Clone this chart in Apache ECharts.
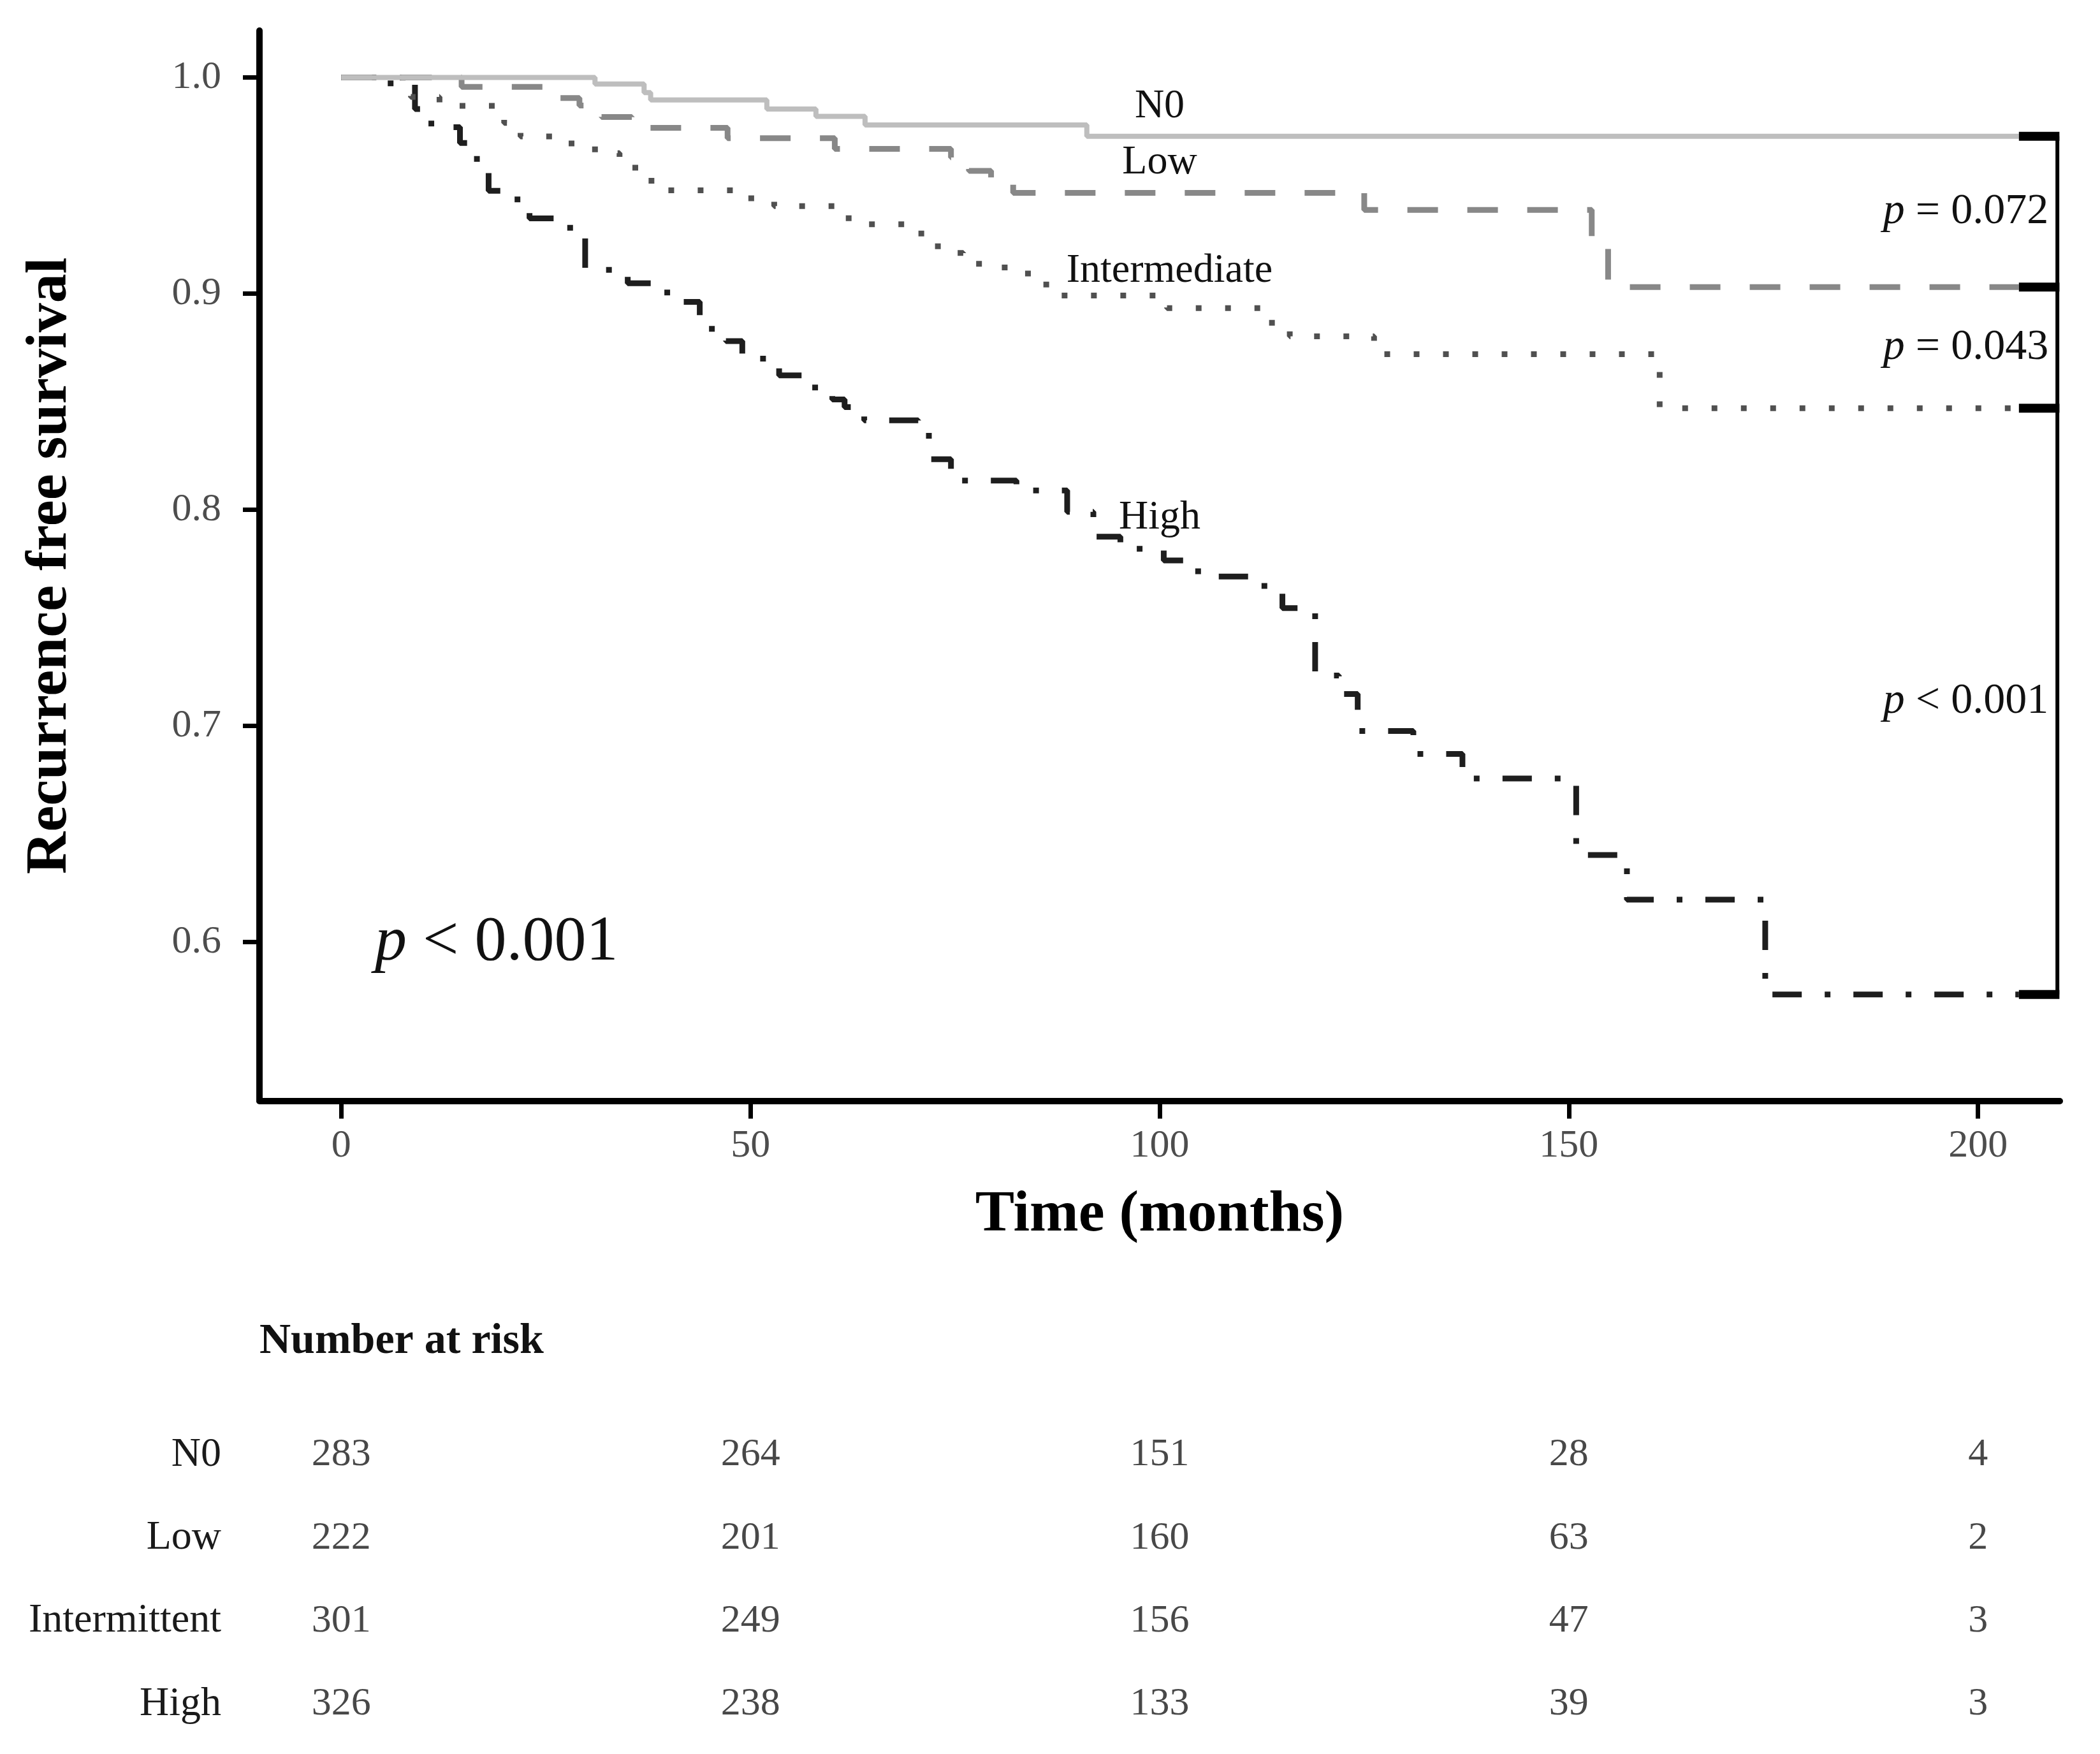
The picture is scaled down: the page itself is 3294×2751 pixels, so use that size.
<!DOCTYPE html>
<html><head><meta charset="utf-8">
<script src="https://cdn.jsdelivr.net/npm/echarts@6/dist/echarts.min.js"></script>
<style>html,body{margin:0;padding:0;background:#fff;}#c{width:3294px;height:2751px;}</style>
</head><body><div id="c"></div>
<script>
// ---- Data ----
const timesN0 = [0, 31.0, 37.0, 37.8, 52.0, 58.0, 64.0, 91.1, 205];
const survN0  = [1.0, 0.997, 0.993, 0.9896, 0.9854, 0.982, 0.978, 0.9728, 0.9728];

const timesLow = [0, 14.7, 25.0, 29.1, 31.8, 35.5, 47.2, 60.3, 74.5, 76.7, 79.4, 82.1, 125.0, 152.8, 154.8, 205];
const survLow  = [1.0, 0.9957, 0.9905, 0.987, 0.9817, 0.9767, 0.9719, 0.967, 0.963, 0.9568, 0.9522, 0.9466, 0.9387, 0.9216, 0.903, 0.903];

const timesInt = [0, 7.5, 8.5, 12.0, 19.9, 21.9, 27.0, 31.0, 34.0, 37.9, 49.0, 52.9, 62.0, 69.0, 72.9, 76.0, 79.0, 82.0, 84.5, 86.5, 100.9, 113.0, 115.9, 126.2, 161.1, 205];
const survInt  = [1.0, 0.996, 0.991, 0.9869, 0.979, 0.9727, 0.9695, 0.965, 0.9583, 0.9478, 0.9441, 0.9405, 0.9321, 0.9278, 0.9188, 0.9138, 0.9121, 0.9093, 0.9042, 0.8991, 0.8933, 0.8865, 0.8802, 0.872, 0.847, 0.847];

const timesHigh = [0, 3.7, 9.0, 11.0, 14.5, 16.0, 18.0, 20.0, 23.0, 27.0, 29.8, 35.0, 38.9, 41.8, 43.8, 47.0, 49.0, 53.5, 57.9, 60.0, 61.5, 63.9, 70.5, 71.8, 74.5, 82.5, 88.7, 91.9, 95.2, 100.5, 104.7, 112.8, 115.0, 119.0, 121.9, 124.2, 131.0, 137.0, 150.9, 157.1, 174.0, 205];
const survHigh  = [1.0, 0.9973, 0.9854, 0.977, 0.9697, 0.9623, 0.9476, 0.9436, 0.9348, 0.9305, 0.911, 0.9048, 0.9005, 0.8962, 0.8837, 0.878, 0.8699, 0.8622, 0.855, 0.851, 0.8475, 0.8414, 0.8377, 0.8234, 0.8135, 0.8089, 0.799, 0.7875, 0.7819, 0.7765, 0.7691, 0.7621, 0.7545, 0.7233, 0.7147, 0.6976, 0.687, 0.6756, 0.6402, 0.6196, 0.5757, 0.5757];

const curveNames = ['N0', 'Low', 'Intermediate', 'High'];
const pairwiseP = ['= 0.072', '= 0.043', '< 0.001'];
const overallP = '< 0.001';

const xTicks = [0, 50, 100, 150, 200];
const yTicks = [0.6, 0.7, 0.8, 0.9, 1.0];

const riskTimes = [0, 50, 100, 150, 200];
const riskGroups = ['N0', 'Low', 'Intermittent', 'High'];
const riskN0 = [283, 264, 151, 28, 4];
const riskLow = [222, 201, 160, 63, 2];
const riskIntermittent = [301, 249, 156, 47, 3];
const riskHigh = [326, 238, 133, 39, 3];

const xTitle = 'Time (months)';
const yTitle = 'Recurrence free survival';
const riskTitle = 'Number at risk';

// ---- Chart ----
const FONT = '"Liberation Serif", "Times New Roman", serif';
const chart = echarts.init(document.getElementById('c'), null, {renderer: 'canvas'});

const curves = [
  {t: timesN0, s: survN0, color: '#bebebe', type: 'solid', w: 8},
  {t: timesLow, s: survLow, color: '#888888', type: [48, 46], w: 9},
  {t: timesInt, s: survInt, color: '#505050', type: [9, 37], w: 9},
  {t: timesHigh, s: survHigh, color: '#1e1e1e', type: [46, 36, 9, 36], w: 9}
];
const pts = (t, s) => t.map((x, i) => [x, s[i]]);

const series = curves.map((c, k) => ({
  name: curveNames[k], type: 'line', step: 'end', data: pts(c.t, c.s),
  symbol: 'none', showSymbol: false, xAxisIndex: 0, yAxisIndex: 0,
  lineStyle: {color: c.color, width: c.w, type: c.type, cap: 'butt'},
  z: 3 + (3 - k), silent: true
}));

// bracket at right end (from the curves' final values)
const ends = curves.map(c => c.s[c.s.length - 1]);
const endT = curves[0].t[curves[0].t.length - 1];
const bracketX = 209.7;
series.push({type: 'line', data: [[bracketX, ends[0]], [bracketX, ends[3]]], symbol: 'none',
  lineStyle: {color: '#000', width: 6}, z: 10, silent: true});
ends.forEach(v => series.push({type: 'line', data: [[endT, v], [bracketX + 0.25, v]], symbol: 'none',
  lineStyle: {color: '#000', width: 14}, z: 10, silent: true}));

// number at risk table
const riskRows = [riskN0, riskLow, riskIntermittent, riskHigh];
series.push({
  type: 'scatter', xAxisIndex: 1, yAxisIndex: 1, symbolSize: 1,
  itemStyle: {color: 'rgba(0,0,0,0)'},
  data: riskRows.flatMap((row, r) => row.map((n, i) => [riskTimes[i], riskGroups[r], n])),
  label: {show: true, position: 'inside', formatter: p => String(p.value[2]),
    fontFamily: FONT, fontSize: 62, color: '#1a1a1a'},
  silent: true
});

const option = {
  animation: false,
  backgroundColor: '#ffffff',
  grid: [
    {left: 407, width: 2824, top: 48, height: 1678.5, containLabel: false},
    {left: 407, width: 2824, top: 2217, height: 521, containLabel: false}
  ],
  xAxis: [
    {type: 'value', gridIndex: 0, min: -10, max: 210,
     name: xTitle, nameLocation: 'middle', nameGap: 134,
     nameTextStyle: {fontFamily: FONT, fontSize: 92, fontWeight: 'bold', color: '#000'},
     axisLine: {show: true, onZero: false, lineStyle: {color: '#000', width: 10}},
     axisTick: {show: true, length: 28, lineStyle: {color: '#000', width: 7}, customValues: xTicks},
     axisLabel: {show: true, margin: 40, fontFamily: FONT, fontSize: 62, color: '#4d4d4d', customValues: xTicks,
       formatter: v => String(v)},
     splitLine: {show: false}},
    {type: 'value', gridIndex: 1, min: -10, max: 210, show: false}
  ],
  yAxis: [
    {type: 'value', gridIndex: 0, min: 0.5265, max: 1.0217,
     name: yTitle, nameLocation: 'middle', nameGap: 282, nameRotate: 90,
     nameTextStyle: {fontFamily: FONT, fontSize: 92, fontWeight: 'bold', color: '#000'},
     axisLine: {show: true, onZero: false, lineStyle: {color: '#000', width: 10}},
     axisTick: {show: true, length: 26, lineStyle: {color: '#000', width: 7}, customValues: yTicks},
     axisLabel: {show: true, margin: 60, fontFamily: FONT, fontSize: 62, color: '#4d4d4d', customValues: yTicks,
       formatter: v => v.toFixed(1)},
     splitLine: {show: false}},
    {type: 'category', gridIndex: 1, data: riskGroups, inverse: true,
     axisLine: {show: false}, axisTick: {show: false}, splitLine: {show: false},
     axisLabel: {show: true, margin: 60, fontFamily: FONT, fontSize: 64, color: '#1a1a1a'}}
  ],
  series: series
};
chart.setOption(option);

// annotations (texts) placed in data coordinates where tied to data
function px(x, y) { return chart.convertToPixel({xAxisIndex: 0, yAxisIndex: 0}, [x, y]); }
const labelPos = [[100, 0.9866], [100, 0.9607], [101.2, 0.9105], [100, 0.7963]];
const graphics = [];
curveNames.forEach((nm, k) => {
  const p = px(labelPos[k][0], labelPos[k][1]);
  graphics.push({type: 'text', x: p[0], y: p[1], z: 20,
    style: {text: nm, font: '64px ' + FONT, fill: '#111', align: 'center', verticalAlign: 'middle',
      textAlign: 'center', textVerticalAlign: 'middle'}});
});
pairwiseP.forEach((txt, k) => {
  const mid = (ends[k] + ends[k + 1]) / 2;
  const p = px(bracketX, mid);
  graphics.push({type: 'text', x: p[0] - 14, y: p[1], z: 20,
    style: {text: '{i|p} ' + txt, font: '68px ' + FONT, fill: '#111', align: 'right', verticalAlign: 'middle',
      textAlign: 'right', textVerticalAlign: 'middle',
      rich: {i: {fontStyle: 'italic', fontSize: 68, fontFamily: FONT, fill: '#111', color: '#111'}}}});
});
{
  const p = px(4.1, 0.5995);
  graphics.push({type: 'text', x: p[0], y: p[1], z: 20,
    style: {text: '{i|p} ' + overallP, font: '100px ' + FONT, fill: '#111', align: 'left', verticalAlign: 'middle',
      textAlign: 'left', textVerticalAlign: 'middle',
      rich: {i: {fontStyle: 'italic', fontSize: 100, fontFamily: FONT, fill: '#111', color: '#111'}}}});
}
graphics.push({type: 'text', x: 407, y: 2104, z: 20,
  style: {text: riskTitle, font: 'bold 68px ' + FONT, fill: '#111', align: 'left', verticalAlign: 'middle',
    textAlign: 'left', textVerticalAlign: 'middle'}});
chart.setOption({graphic: {elements: graphics}});
</script></body></html>
